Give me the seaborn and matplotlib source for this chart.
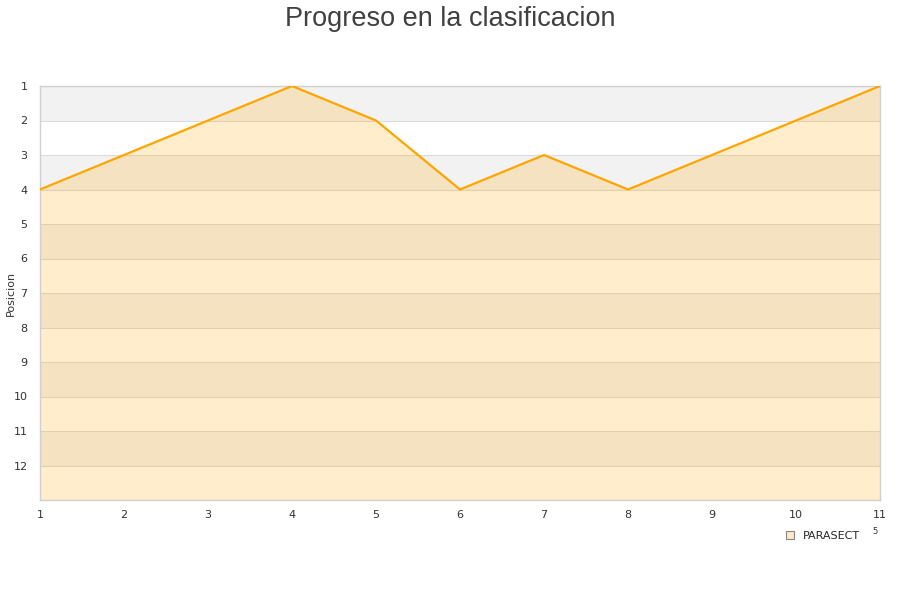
import matplotlib
matplotlib.use('Agg')
import matplotlib.pyplot as plt
import seaborn as sns
import pandas as pd
from matplotlib.patches import Patch

# data
jornadas = [1, 2, 3, 4, 5, 6, 7, 8, 9, 10, 11]
posicion = [4, 3, 2, 1, 2, 4, 3, 4, 3, 2, 1]
equipo = 'PARASECT'
y_ticks = list(range(1, 13))

df = pd.DataFrame({'jornada': jornadas, 'posicion': posicion})

sns.set_style('white')
plt.rcParams['font.family'] = ['DejaVu Sans']

fig = plt.figure(figsize=(9, 6), dpi=100)
ax = fig.add_axes([40 / 900, 100 / 600, 840 / 900, 414 / 600])

# alternating bands
for i in y_ticks:
    if i % 2 == 1:
        ax.axhspan(i, i + 1, color='#f2f2f2', zorder=0, lw=0)
for i in y_ticks:
    ax.axhline(i, color='#dcdcdc', lw=0.8, zorder=1)

ax.fill_between(df['jornada'], df['posicion'], 13, color='orange', alpha=0.2, lw=0, zorder=2)
sns.lineplot(data=df, x='jornada', y='posicion', color='orange', lw=1.6, ax=ax, zorder=3)

ax.set_xlim(1, 11)
ax.set_ylim(13, 1)
ax.set_xticks(jornadas)
ax.set_yticks(y_ticks)
ax.tick_params(labelsize=8, colors='#333333', length=0)
ax.tick_params(axis='y', pad=9)
ax.tick_params(axis='x', pad=7)
ax.set_xlabel('')
ax.set_ylabel('')
for s in ax.spines.values():
    s.set_color('#d0d0d0')
    s.set_linewidth(1)

fig.text(11 / 900, 1 - 293 / 600, 'Posicion', rotation=90, fontsize=8, color='#333333',
         ha='center', va='center')

fig.suptitle('Progreso en la clasificacion', fontsize=19.5, color='#404040',
             family='Liberation Sans', y=0.99)

handles = [Patch(facecolor='#ffe9c8', edgecolor='#888888', lw=0.8)]
fig.legend(handles, [equipo], loc='center left', bbox_to_anchor=(776 / 900, 1 - 536 / 600),
           frameon=False, fontsize=8, handlelength=0.7, handleheight=0.7, handletextpad=0.8)
fig.text(875 / 900, 1 - 532 / 600, '5', fontsize=6, color='#333333', ha='center', va='center')

fig.savefig('out.png', dpi=100)
